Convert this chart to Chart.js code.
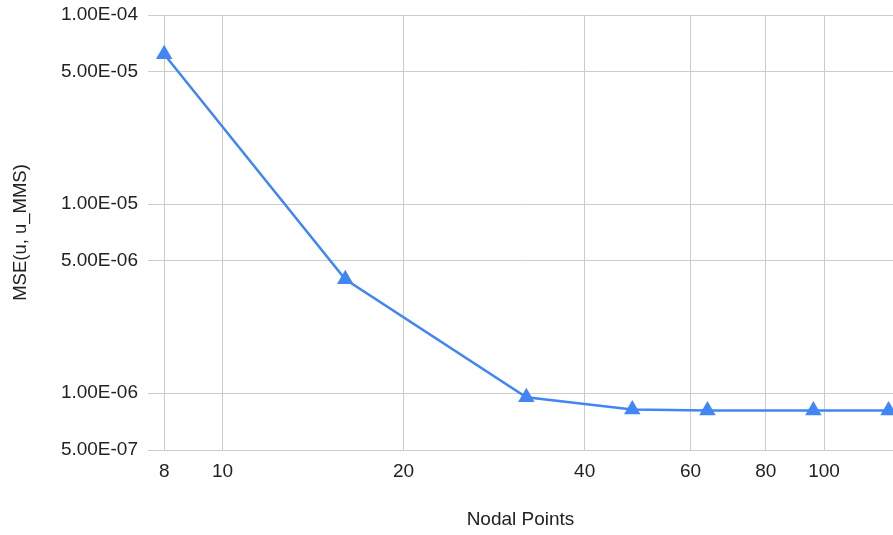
<!DOCTYPE html>
<html>
<head>
<meta charset="utf-8">
<script src="https://cdn.jsdelivr.net/npm/chart.js@4/dist/chart.umd.min.js"></script>
<style>
  html, body { margin: 0; padding: 0; background: #fff; }
  #wrap { width: 893px; height: 535px; position: relative; }
</style>
</head>
<body>
<div id="wrap"><canvas id="c" width="893" height="535"></canvas></div>
<script>
const nodalPoints = [8, 16, 32, 48, 64, 96, 128];
const mseValues = [6.2e-5, 4.0e-6, 9.5e-7, 8.2e-7, 8.1e-7, 8.1e-7, 8.1e-7];
const xTickValues = [8, 10, 20, 40, 60, 80, 100];
const yTickValues = [5e-7, 1e-6, 5e-6, 1e-5, 5e-5, 1e-4];
const xTitle = 'Nodal Points';
const yTitle = 'MSE(u, u_MMS)';

function fmtE(v) {
  const s = Number(v).toExponential(2).toUpperCase();
  const m = s.match(/^(.*)E([+-])(\d+)$/);
  let exp = m[3].padStart(2, '0');
  return m[1] + 'E' + m[2] + exp;
}

const FONT = '"Liberation Sans", Arial, sans-serif';
const TXT = '#222222';
const GRID = '#cccccc';
const BLUE = '#4285F4';

new Chart(document.getElementById('c'), {
  type: 'line',
  data: {
    datasets: [{
      data: nodalPoints.map((x, i) => ({ x: x, y: mseValues[i] })),
      borderColor: BLUE,
      backgroundColor: BLUE,
      borderWidth: 2.5,
      pointStyle: 'triangle',
      pointRadius: 9.5,
      pointHoverRadius: 9.5,
      pointBorderWidth: 0,
      tension: 0,
      clip: false
    }]
  },
  options: {
    responsive: false,
    animation: false,
    devicePixelRatio: 1,
    layout: { autoPadding: false, padding: { top: 15, right: 0, left: 0, bottom: 0 } },
    plugins: { legend: { display: false }, tooltip: { enabled: false } },
    scales: {
      x: {
        type: 'logarithmic',
        min: 7.52,
        max: 130.2,
        afterBuildTicks: s => { s.ticks = xTickValues.map(v => ({ value: v })); },
        afterFit: s => { s.height = 85; s.paddingLeft = 0; s.paddingRight = 0; },
        border: { display: false },
        grid: { color: GRID, lineWidth: 1, drawTicks: false },
        ticks: {
          color: TXT, font: { family: FONT, size: 19 }, padding: 10,
          autoSkip: false, maxRotation: 0,
          callback: v => String(v)
        },
        title: { display: true, text: xTitle, color: TXT, font: { family: FONT, size: 19 }, padding: { top: 27 } }
      },
      y: {
        type: 'logarithmic',
        min: 5e-7,
        max: 1e-4,
        afterBuildTicks: s => { s.ticks = yTickValues.map(v => ({ value: v })); },
        afterFit: s => { s.width = 148; s.paddingTop = 0; s.paddingBottom = 0; },
        border: { display: false },
        grid: { color: GRID, lineWidth: 1, drawTicks: false },
        ticks: {
          color: TXT, font: { family: FONT, size: 19 }, padding: 10,
          autoSkip: false,
          callback: v => fmtE(v)
        },
        title: { display: true, text: yTitle, color: TXT, font: { family: FONT, size: 18.5 }, padding: { top: 10, bottom: 0 } }
      }
    }
  }
});
</script>
</body>
</html>
